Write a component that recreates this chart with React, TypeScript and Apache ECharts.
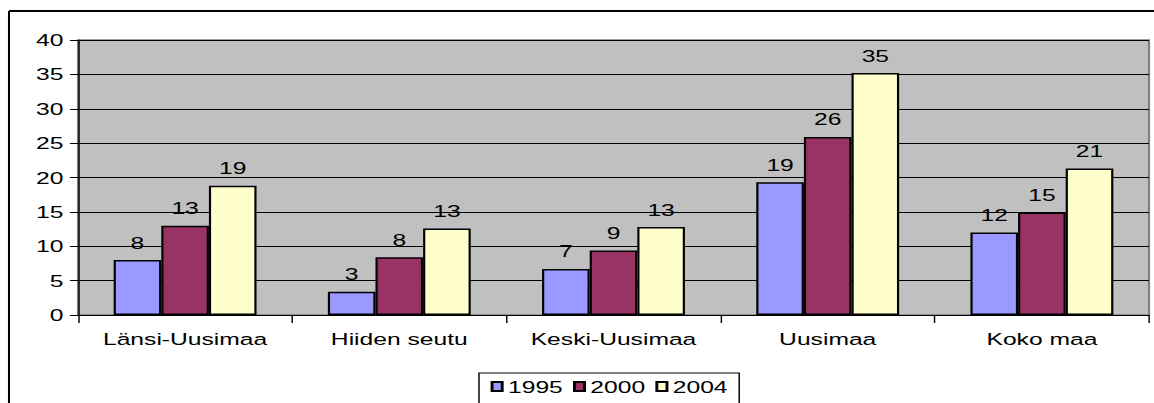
import React, { useEffect, useRef } from "react";
import * as echarts from "echarts";

const categories = ["Länsi-Uusimaa", "Hiiden seutu", "Keski-Uusimaa", "Uusimaa", "Koko maa"];
const seriesNames = ["1995", "2000", "2004"];
const values1995 = [8.0, 3.4, 6.7, 19.3, 12.0];
const values2000 = [13.0, 8.4, 9.4, 25.9, 14.9];
const values2004 = [18.8, 12.6, 12.8, 35.2, 21.3];
const colors = ["#9999FF", "#993366", "#FFFFCC"];

const SX = 1.45;
const W = 1154 / SX;
const H = 403;
const FONT = "'Liberation Sans', Arial, sans-serif";

export default function App() {
  const ref = useRef<HTMLDivElement>(null);
  useEffect(() => {
    document.body.style.margin = "0";
    const chart = echarts.init(ref.current!, null, { renderer: "svg", width: W, height: H });
    const data = [values1995, values2000, values2004];
    chart.setOption({
      animation: false,
      backgroundColor: "#FFFFFF",
      textStyle: { fontFamily: FONT, color: "#000" },
      graphic: [
        { type: "line", shape: { x1: 6.2, y1: 11, x2: W + 10, y2: 11 }, style: { stroke: "#000", lineWidth: 2 } },
        { type: "line", shape: { x1: 6.2, y1: 11, x2: 6.2, y2: H + 10 }, style: { stroke: "#000", lineWidth: 1.4 } },
      ],
      grid: {
        left: 78 / SX,
        right: W - 1149 / SX,
        top: 40,
        bottom: H - 315,
        show: true,
        backgroundColor: "#C0C0C0",
        borderColor: "#808080",
        borderWidth: 1.5,
      },
      legend: {
        data: seriesNames,
        left: 479 / SX,
        top: 373,
        padding: [5, 8, 12, 8],
        itemWidth: 7,
        itemHeight: 9,
        itemGap: 7,
        borderColor: "#000",
        borderWidth: 1,
        backgroundColor: "#FFFFFF",
        textStyle: { fontSize: 17, color: "#000", fontFamily: FONT, padding: [0, 0, 0, -1] },
        icon: "rect",
      },
      xAxis: {
        type: "category",
        data: categories,
        axisLine: { lineStyle: { color: "#000", width: 1 } },
        axisTick: { show: true, interval: 0, length: 8, lineStyle: { color: "#000" } },
        axisLabel: { interval: 0, hideOverlap: false, fontSize: 17, color: "#000", margin: 15, fontFamily: FONT },
      },
      yAxis: {
        type: "value",
        min: 0,
        max: 40,
        interval: 5,
        axisLine: { show: true, lineStyle: { color: "#000", width: 1 } },
        axisTick: { show: true, length: 5.5, lineStyle: { color: "#000" } },
        axisLabel: { fontSize: 17, color: "#000", margin: 10, fontFamily: FONT },
        splitLine: { lineStyle: { color: "#000", width: 1 } },
      },
      series: seriesNames.map((name, i) => ({
        name,
        type: "bar",
        data: data[i],
        barGap: "0%",
        barCategoryGap: "33.3%",
        itemStyle: { color: colors[i], borderColor: "#000", borderWidth: 1.5 },
        label: {
          show: true,
          position: "top",
          distance: 9,
          fontSize: 17,
          color: "#000",
          fontFamily: FONT,
          formatter: (p: any) => String(Math.round(p.value)),
        },
      })),
    });
    return () => chart.dispose();
  }, []);
  return (
    <div
      ref={ref}
      style={{
        position: "fixed",
        left: 0,
        top: 0,
        width: W,
        height: H,
        transform: `scaleX(${SX})`,
        transformOrigin: "0 0",
      }}
    />
  );
}
